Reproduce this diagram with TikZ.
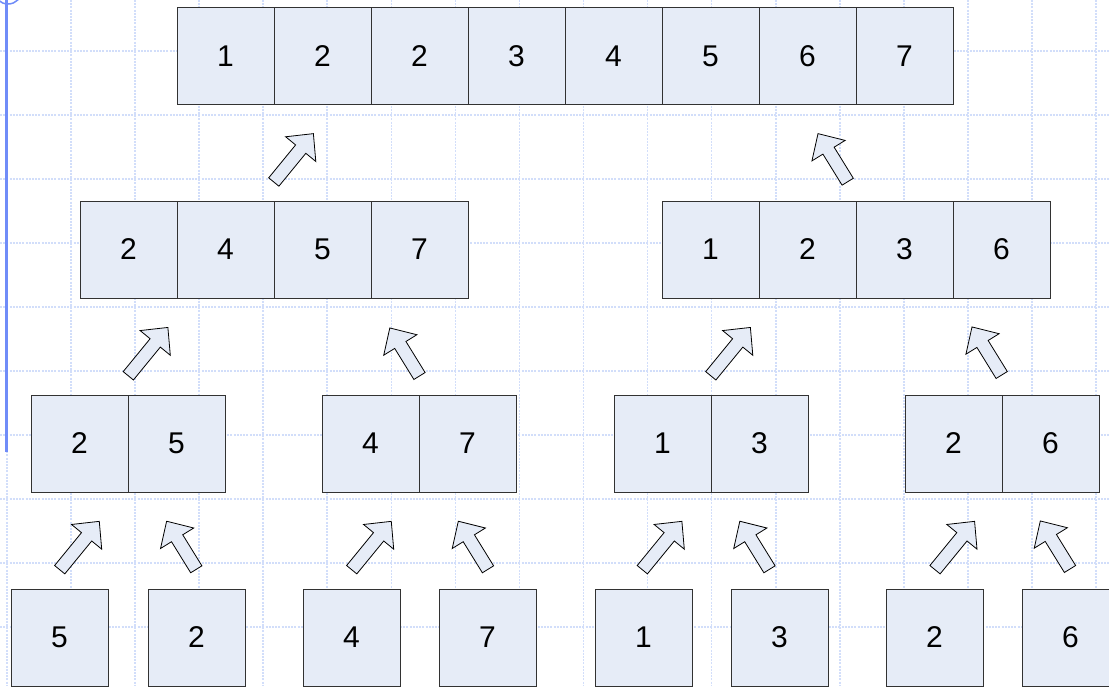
\documentclass[tikz,border=0pt]{standalone}
\usepackage{fontspec}
\setmainfont{Liberation Sans}
\definecolor{cellfill}{RGB}{230,236,247}
\definecolor{gridblue}{RGB}{210,222,250}
\definecolor{lineblue}{RGB}{112,140,248}
\definecolor{cellline}{RGB}{50,50,50}
\tikzset{
  cell/.style={draw=cellline, line width=1pt, fill=cellfill, minimum size=97pt,
    inner sep=0pt, font=\fontsize{30}{30}\selectfont},
  gridline/.style={draw=gridblue, line width=1.6pt, dash pattern=on 2pt off 1.2pt},
  blockarr/.style={draw=black, line width=0.8pt, fill=cellfill, line join=miter},
}
% tail x, tail y, angle, length
\newcommand\blockarrow[4]{%
  \begin{scope}[shift={(#1,#2)},rotate=#3]
    \draw[blockarr] (0,-6.6) -- (#4-20,-6.6) -- (#4-20,-19.5) -- (#4,0)
      -- (#4-20,19.5) -- (#4-20,6.6) -- (0,6.6) -- cycle;
  \end{scope}}
\newcommand\urarrow[2]{\blockarrow{#1}{#2}{50.7}{62.5}}
\newcommand\ularrow[2]{\blockarrow{#1}{#2}{121.7}{56.5}}
\begin{document}
\begin{tikzpicture}[x=1pt,y=-1pt]
\useasboundingbox (0,0) rectangle (1109,686);
% background grid
\foreach \k in {0,...,17} \draw[gridline] ({6.9+64.07*\k},0) -- ({6.9+64.07*\k},686);
\foreach \k in {0,...,9} \draw[gridline] (0,{51+64*\k}) -- (1109,{51+64*\k});
% template blue line
\draw[lineblue, line width=2.5pt] (6.3,0) -- (6.3,452);
\draw[lineblue, line width=1.5pt] (8,-10) circle (14pt);
% block arrows
\urarrow{273.8}{182}
\ularrow{847.7}{181.7}
\urarrow{128.3}{375.8}
\ularrow{419.5}{376}
\urarrow{710.8}{375.8}
\ularrow{1001.7}{375}
\urarrow{59.7}{569.7}
\ularrow{196.3}{569.3}
\urarrow{351.7}{569.7}
\ularrow{488}{569.3}
\urarrow{642.3}{569.7}
\ularrow{769.5}{569.3}
\urarrow{935}{569.7}
\ularrow{1070}{569}
% top row
\foreach \v [count=\i from 0] in {1,2,2,3,4,5,6,7}
  \node[cell] (top\i) at ({177+48.5+97*\i},56) {\v};
% second row
\foreach \v [count=\i from 0] in {2,4,5,7}
  \node[cell] (midL\i) at ({80+48.5+97*\i},249.5) {\v};
\foreach \v [count=\i from 0] in {1,2,3,6}
  \node[cell] (midR\i) at ({662+48.5+97*\i},249.5) {\v};
% third row
\foreach \x/\a/\b/\n in {31/2/5/A,322/4/7/B,614/1/3/C,905/2/6/D} {
  \node[cell] (pair\n1) at ({\x+48.5},443.5) {\a};
  \node[cell] (pair\n2) at ({\x+48.5+97},443.5) {\b};
}
% leaves
\foreach \x/\v [count=\i] in {11/5,148/2,303/4,439/7,595/1,731/3,886/2,1022/6}
  \node[cell] (leaf\i) at ({\x+48.5},637.5) {\v};
\end{tikzpicture}
\end{document}
